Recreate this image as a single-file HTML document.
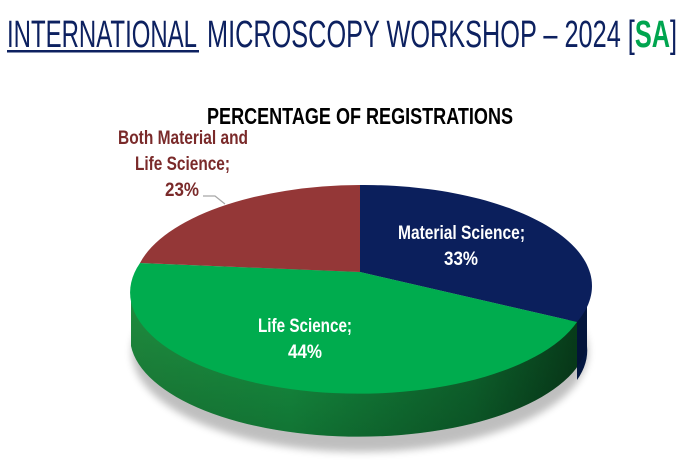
<!DOCTYPE html>
<html><head><meta charset="utf-8"><style>body{margin:0;background:#fff}svg{display:block}</style></head>
<body>
<svg width="682" height="466" viewBox="0 0 682 466" xmlns="http://www.w3.org/2000/svg" font-family="'Liberation Sans Narrow','Liberation Sans',sans-serif">
<defs>
<linearGradient id="gs" x1="0" x2="1" y1="0" y2="0">
<stop offset="0" stop-color="#1f8f40"/><stop offset="0.35" stop-color="#179a45"/><stop offset="0.75" stop-color="#0f6d31"/><stop offset="0.97" stop-color="#08401c"/>
</linearGradient>
<linearGradient id="gv" x1="0" x2="0" y1="0" y2="1">
<stop offset="0" stop-color="#000" stop-opacity="0"/><stop offset="1" stop-color="#000" stop-opacity="0.25"/>
</linearGradient>
<filter id="sh" x="-10%" y="-10%" width="120%" height="130%"><feGaussianBlur stdDeviation="4"/></filter>
</defs>
<text x="7" y="47" font-size="38" fill="#0d2160" textLength="190" lengthAdjust="spacingAndGlyphs">INTERNATIONAL</text>
<text x="207" y="47" font-size="38" fill="#0d2160" textLength="470" lengthAdjust="spacingAndGlyphs">MICROSCOPY WORKSHOP – 2024 [<tspan fill="#00a54f" font-weight="bold">SA</tspan>]</text>
<rect x="7" y="50" width="192" height="2.5" fill="#0d2160"/>
<text x="207" y="124" font-size="23" font-weight="bold" fill="#000" textLength="306" lengthAdjust="spacingAndGlyphs">PERCENTAGE OF REGISTRATIONS</text>
<ellipse cx="360" cy="352" rx="228" ry="100" fill="#000" opacity="0.25" filter="url(#sh)"/>
<path d="M131,288 L131,346 A229,100 0 0 0 587,346 L587,288 A229,100 0 0 1 131,288 Z" fill="url(#gs)"/>
<path d="M577,322 L577,380 A229,100 0 0 0 587,346 L587,288 A229,100 0 0 1 577,322 Z" fill="#031640"/>
<path d="M131,288 L131,346 A229,100 0 0 0 587,346 L587,288 A229,100 0 0 1 131,288 Z" fill="url(#gv)"/>
<path d="M360,272 L360,185 A228,101 0 0 1 577,322 Z" fill="#0b1f5c"/>
<path d="M360,272 L577,322 A228,101 0 1 1 140,263 Z" fill="#00ac4e"/>
<path d="M360,272 L140,263 A228,101 0 0 1 360,185 Z" fill="#943737"/>
<g font-weight="bold" font-size="19">
<text x="398" y="239" fill="#fff" textLength="127" lengthAdjust="spacingAndGlyphs">Material Science;</text>
<text x="444" y="265" fill="#fff" textLength="34" lengthAdjust="spacingAndGlyphs">33%</text>
<text x="258" y="332" fill="#fff" textLength="94" lengthAdjust="spacingAndGlyphs">Life Science;</text>
<text x="288" y="358" fill="#fff" textLength="34" lengthAdjust="spacingAndGlyphs">44%</text>
<text x="118" y="144" fill="#7a2a2a" textLength="130" lengthAdjust="spacingAndGlyphs">Both Material and</text>
<text x="135" y="170" fill="#7a2a2a" textLength="95" lengthAdjust="spacingAndGlyphs">Life Science;</text>
<text x="165" y="196" fill="#7a2a2a" textLength="34" lengthAdjust="spacingAndGlyphs">23%</text>
</g>
<polyline points="203,196 215,196 225,204" fill="none" stroke="#a6a6a6" stroke-width="1.2"/>
</svg>
</body></html>
